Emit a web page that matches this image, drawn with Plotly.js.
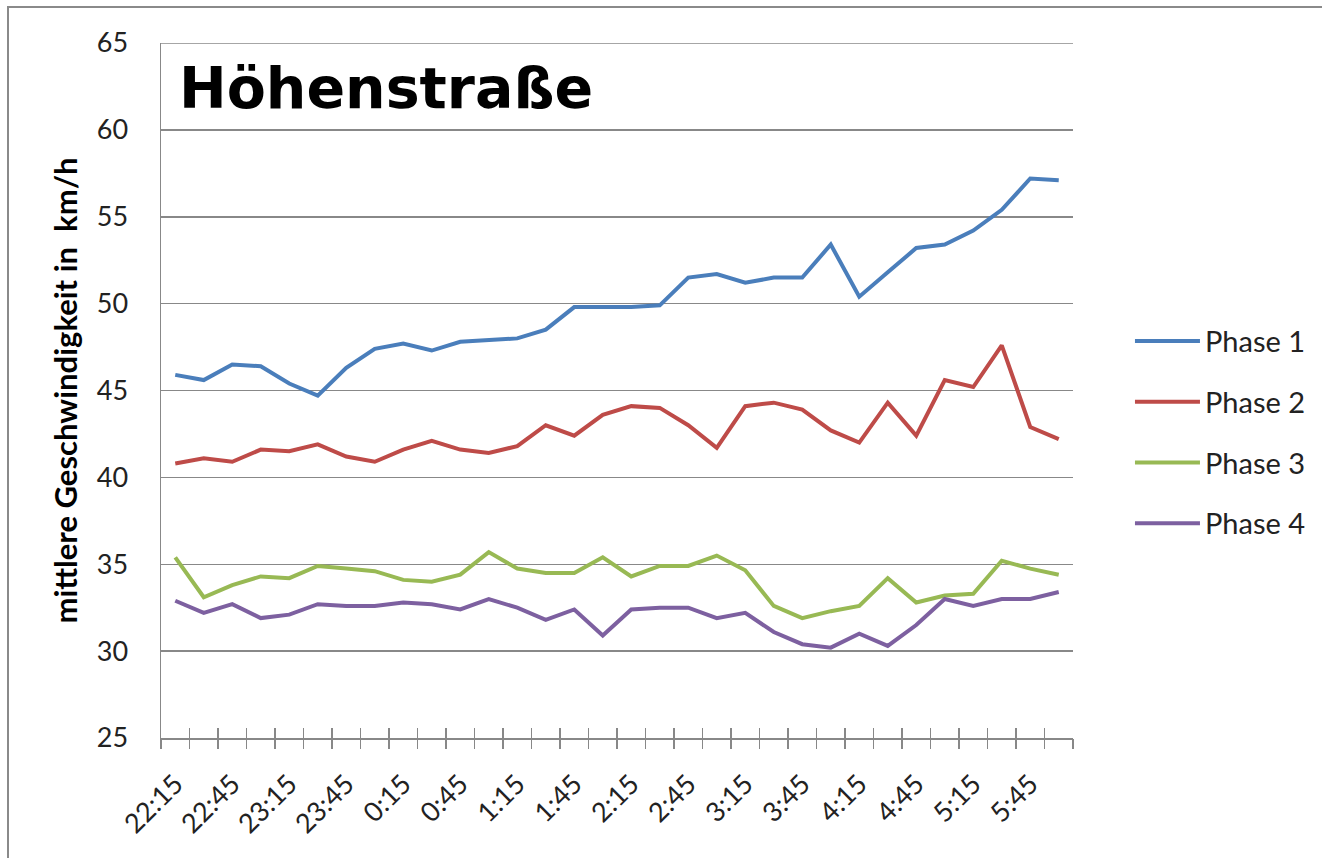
<!DOCTYPE html>
<html>
<head>
<meta charset="utf-8">
<script src="https://cdn.plot.ly/plotly-3.0.1.min.js"></script>
<style>
  html, body { margin: 0; padding: 0; background: #fff; overflow: hidden; }
  #chart { width: 1322px; height: 858px; position: absolute; left: 0; top: 0; }
  #frame { position: absolute; left: 7px; top: 6px; width: 1340px; height: 880px;
           border: 2px solid #8a8a8a; pointer-events: none; }
</style>
</head>
<body>
<div id="chart"></div>
<div id="frame"></div>
<script>
const categories = ["22:15","22:30","22:45","23:00","23:15","23:30","23:45","0:00",
  "0:15","0:30","0:45","1:00","1:15","1:30","1:45","2:00",
  "2:15","2:30","2:45","3:00","3:15","3:30","3:45","4:00",
  "4:15","4:30","4:45","5:00","5:15","5:30","5:45","6:00"];

const phase1 = [45.9, 45.6, 46.5, 46.4, 45.4, 44.7, 46.3, 47.4, 47.7, 47.3, 47.8, 47.9, 48.0, 48.5, 49.8, 49.8,
                49.8, 49.9, 51.5, 51.7, 51.2, 51.5, 51.5, 53.4, 50.4, 51.8, 53.2, 53.4, 54.2, 55.4, 57.2, 57.1];
const phase2 = [40.8, 41.1, 40.9, 41.6, 41.5, 41.9, 41.2, 40.9, 41.6, 42.1, 41.6, 41.4, 41.8, 43.0, 42.4, 43.6,
                44.1, 44.0, 43.0, 41.7, 44.1, 44.3, 43.9, 42.7, 42.0, 44.3, 42.4, 45.6, 45.2, 47.6, 42.9, 42.2];
const phase3 = [35.4, 33.1, 33.8, 34.3, 34.2, 34.9, 34.75, 34.6, 34.1, 34.0, 34.4, 35.7, 34.75, 34.5, 34.5, 35.4,
                34.3, 34.9, 34.9, 35.5, 34.65, 32.6, 31.9, 32.3, 32.6, 34.2, 32.8, 33.2, 33.3, 35.2, 34.75, 34.4];
const phase4 = [32.9, 32.2, 32.7, 31.9, 32.1, 32.7, 32.6, 32.6, 32.8, 32.7, 32.4, 33.0, 32.5, 31.8, 32.4, 30.9,
                32.4, 32.5, 32.5, 31.9, 32.2, 31.1, 30.4, 30.2, 31.0, 30.3, 31.5, 33.0, 32.6, 33.0, 33.0, 33.4];

const seriesNames = ["Phase 1", "Phase 2", "Phase 3", "Phase 4"];
const seriesValues = [phase1, phase2, phase3, phase4];
const seriesColors = ["#4A7EBB", "#BE4B48", "#98B954", "#7D60A0"];

const yMin = 25, yMax = 65, yStep = 5;
const labelCats = categories.filter((c, i) => i % 2 === 0);

const traces = seriesValues.map((vals, k) => ({
  type: "scatter", mode: "lines",
  x: categories, y: vals, name: seriesNames[k], legendgroup: "g" + k,
  line: { color: seriesColors[k], width: 4 },
  hoverinfo: "x+y+name"
}));

const fam = "Lato, 'Open Sans', sans-serif";
const tickFont = { family: fam, size: 27, color: "#222" };
const legendFont = { family: fam, size: 29, color: "#222" };
const gridColor = "#888888";
const legendSampleWidth = 65;

const layout = {
  width: 1322, height: 858,
  margin: { l: 161, r: 248, t: 43, b: 120, pad: 0 },
  paper_bgcolor: "#fff", plot_bgcolor: "#fff",
  showlegend: true,
  legend: {
    x: 1.0613, xanchor: "left", y: 0.44, yanchor: "middle",
    font: legendFont, tracegroupgap: 20, bgcolor: "rgba(0,0,0,0)",
    itemwidth: legendSampleWidth
  },
  xaxis: {
    type: "category", categoryorder: "array", categoryarray: categories,
    range: [-0.5, categories.length - 0.5],
    tickmode: "array", tickvals: labelCats, ticktext: labelCats,
    tickangle: -45, tickfont: tickFont, ticks: "", ticklabelstandoff: 18,
    showline: true, linecolor: gridColor, linewidth: 1.5,
    showgrid: false, zeroline: false, fixedrange: true
  },
  xaxis2: {
    overlaying: "x", anchor: "y", side: "bottom", type: "linear",
    range: [-0.5, categories.length - 0.5], tick0: -0.5, dtick: 1,
    ticks: "outside", ticklen: 10, tickwidth: 1.5, tickcolor: gridColor,
    showticklabels: false, showgrid: false, showline: false, zeroline: false
  },
  xaxis3: {
    overlaying: "x", anchor: "y", side: "bottom", type: "linear",
    range: [-0.5, categories.length - 0.5], tick0: -0.5, dtick: 1,
    ticks: "inside", ticklen: 10, tickwidth: 1.5, tickcolor: gridColor,
    showticklabels: false, showgrid: false, showline: false, zeroline: false
  },
  yaxis: {
    range: [yMin, yMax], tick0: yMin, dtick: yStep,
    tickfont: tickFont, ticks: "", ticklabelstandoff: 26,
    showgrid: true, gridcolor: gridColor, gridwidth: 1.5,
    showline: true, linecolor: gridColor, linewidth: 1.5, zeroline: false,
    title: { text: "mittlere Geschwindigkeit in  km/h",
             font: { family: fam, size: 31, color: "#000", weight: "bold" },
             standoff: 10 },
    fixedrange: true
  },
  shapes: [{
    type: "line", xref: "paper", x0: 0, x1: 1, yref: "y", y0: yMax, y1: yMax,
    line: { color: gridColor, width: 1.5 }
  }],
  annotations: [{
    text: "<b>Höhenstraße</b>", xref: "paper", yref: "paper",
    x: 0.0175, xanchor: "left", y: 0.935, yanchor: "middle", showarrow: false,
    font: { family: "'DejaVu Sans', Verdana, sans-serif", size: 57, color: "#000" }
  }]
};

// invisible helper traces so the overlay tick axes get drawn
const helper2 = { type: "scatter", mode: "none", x: [-0.5], y: [yMin], xaxis: "x2", yaxis: "y", showlegend: false, hoverinfo: "skip" };
const helper3 = { type: "scatter", mode: "none", x: [-0.5], y: [yMin], xaxis: "x3", yaxis: "y", showlegend: false, hoverinfo: "skip" };

function stretchLegendLines() {
  // legend line samples as long as the item width, as in the original
  document.querySelectorAll("#chart .legend g.legendlines path").forEach(p => {
    p.setAttribute("d", "M5,0h" + legendSampleWidth);
  });
}

const gd = document.getElementById("chart");
Plotly.newPlot(gd, [helper2, helper3].concat(traces), layout, { displayModeBar: false, staticPlot: true })
  .then(() => {
    stretchLegendLines();
    setTimeout(stretchLegendLines, 50);
  });
</script>
</body>
</html>
